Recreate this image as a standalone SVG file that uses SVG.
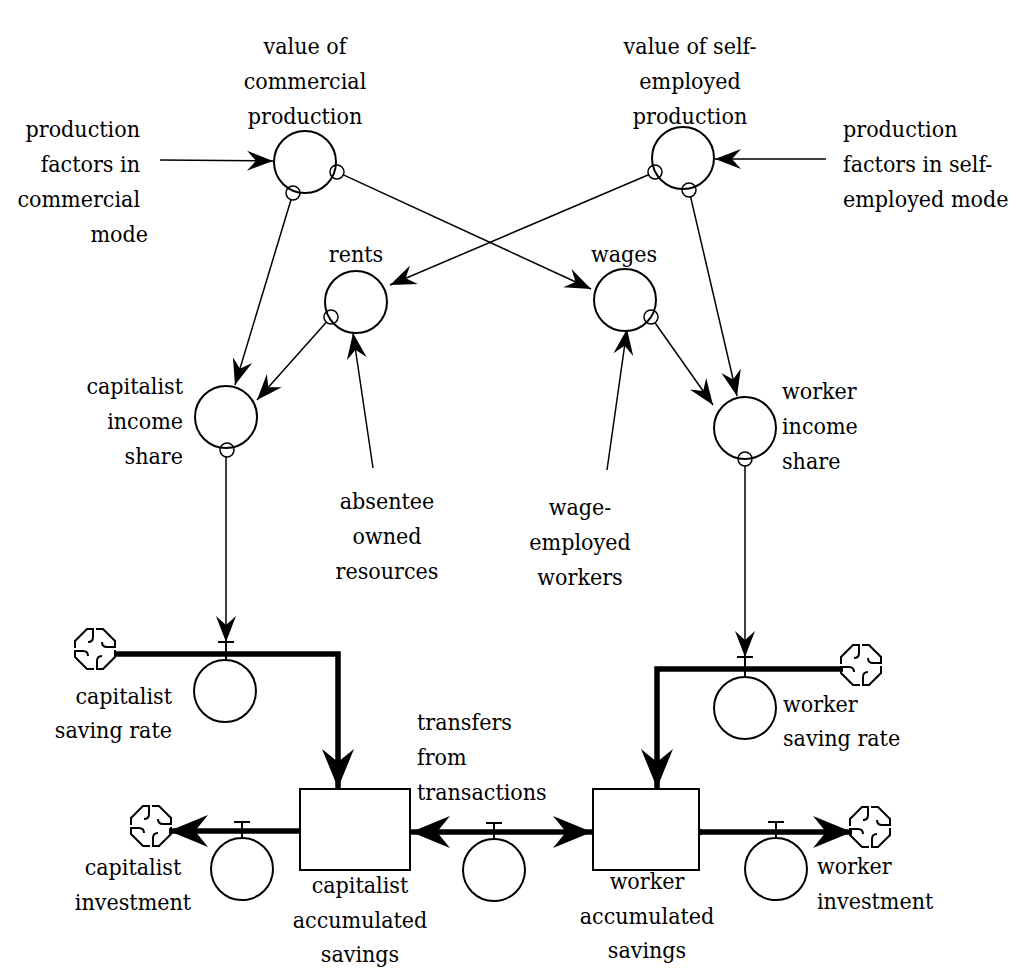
<svg xmlns="http://www.w3.org/2000/svg" xmlns:xlink="http://www.w3.org/1999/xlink" width="1024" height="979" viewBox="0 0 1024 979">
<style>
text{font-family:"DejaVu Serif Condensed","DejaVu Serif",serif;font-stretch:condensed;font-size:23px;fill:#000}
.c{text-anchor:middle}.r{text-anchor:end}
.node{fill:#fff;stroke:#000;stroke-width:2}
.pin{fill:none;stroke:#000;stroke-width:1.5}
.link{fill:none;stroke:#000;stroke-width:1.5;marker-end:url(#ah)}
.pipe{fill:none;stroke:#000;stroke-width:5.5}
.cloud{fill:none;stroke:#000;stroke-width:2}
.valve{fill:none;stroke:#000;stroke-width:2}
</style>
<defs>
<marker id="ah" markerUnits="userSpaceOnUse" viewBox="-28 -13 30 26" markerWidth="30" markerHeight="26" refX="0" refY="0" orient="auto">
<path d="M0,0 L-26,-10 L-17,0 L-26,10 Z" fill="#000"/>
</marker>
<marker id="bh" markerUnits="userSpaceOnUse" viewBox="-42 -18 44 36" markerWidth="44" markerHeight="36" refX="0" refY="0" orient="auto-start-reverse">
<path d="M0,0 L-39,-16 L-26,0 L-39,16 Z" fill="#000"/>
</marker>
<g id="cl">
<path id="cp" class="cloud" d="M1,-20 L8,-20 L20,-8 L20,-2 L12,-2 Q7,-2 7,-7"/>
<use xlink:href="#cp" transform="rotate(90)"/>
<use xlink:href="#cp" transform="rotate(180)"/>
<use xlink:href="#cp" transform="rotate(270)"/>
</g>
</defs>
<rect width="1024" height="979" fill="#fff"/>

<g id="connectors">
<line class="link" x1="160" y1="160" x2="273" y2="161"/>
<line class="link" x1="826" y1="159" x2="715" y2="159"/>
<line class="link" x1="291" y1="199.7" x2="235" y2="385"/>
<line class="link" x1="343.4" y1="174.9" x2="591" y2="289"/>
<line class="link" x1="648.6" y1="174.7" x2="390" y2="285"/>
<line class="link" x1="690.6" y1="196.8" x2="737" y2="396"/>
<line class="link" x1="326.3" y1="322.2" x2="257" y2="400"/>
<line class="link" x1="373" y1="468" x2="353" y2="333"/>
<line class="link" x1="607" y1="470" x2="627" y2="329"/>
<line class="link" x1="655" y1="322.7" x2="713" y2="405"/>
<line class="link" x1="226" y1="457" x2="226" y2="642"/>
<line class="link" x1="745" y1="466" x2="745" y2="657"/>
<polyline class="pipe" points="115,654 338,654 338,788" style="marker-end:url(#bh)"/>
<polyline class="pipe" points="843,669 657,669 657,788" style="marker-end:url(#bh)"/>
<line class="pipe" x1="302" y1="831" x2="169" y2="831" style="marker-end:url(#bh)"/>
<circle cx="302" cy="831" r="3.5" fill="#000"/>
<line class="pipe" x1="411" y1="832" x2="592" y2="832" style="marker-start:url(#bh);marker-end:url(#bh)"/>
<line class="pipe" x1="699" y1="832" x2="852" y2="832" style="marker-end:url(#bh)"/>
<circle cx="699" cy="832" r="3.5" fill="#000"/>
</g>

<g id="value-commercial">
<circle class="node" cx="305" cy="162" r="31"/>
<circle class="pin" cx="293" cy="193" r="7"/>
<circle class="pin" cx="337" cy="172" r="7"/>
<text class="c" x="305" y="54">value of</text>
<text class="c" x="305" y="89">commercial</text>
<text class="c" x="305" y="124">production</text>
</g>
<g id="value-self">
<circle class="node" cx="683" cy="158" r="31"/>
<circle class="pin" cx="655" cy="172" r="7"/>
<circle class="pin" cx="689" cy="190" r="7"/>
<text class="c" x="690" y="54">value of self-</text>
<text class="c" x="690" y="89">employed</text>
<text class="c" x="690" y="124">production</text>
</g>
<g id="pf-commercial">
<text class="r" x="140" y="137">production</text>
<text class="r" x="140" y="172">factors in</text>
<text class="r" x="140" y="207">commercial</text>
<text class="r" x="148" y="242">mode</text>
</g>
<g id="pf-self">
<text x="843" y="137">production</text>
<text x="843" y="172">factors in self-</text>
<text x="843" y="207">employed mode</text>
</g>
<g id="rents">
<circle class="node" cx="356" cy="302" r="31"/>
<circle class="pin" cx="331" cy="317" r="7"/>
<text class="c" x="356" y="262">rents</text>
</g>
<g id="wages">
<circle class="node" cx="625" cy="300" r="31"/>
<circle class="pin" cx="651" cy="317" r="7"/>
<text class="c" x="624" y="262">wages</text>
</g>
<g id="capitalist-income-share">
<circle class="node" cx="226" cy="417" r="31"/>
<circle class="pin" cx="227" cy="450" r="7"/>
<text class="r" x="183" y="394">capitalist</text>
<text class="r" x="183" y="429">income</text>
<text class="r" x="183" y="464">share</text>
</g>
<g id="worker-income-share">
<circle class="node" cx="745" cy="428" r="31"/>
<circle class="pin" cx="745" cy="459" r="7"/>
<text x="782" y="399">worker</text>
<text x="782" y="434">income</text>
<text x="782" y="469">share</text>
</g>
<g id="absentee">
<text class="c" x="387" y="509">absentee</text>
<text class="c" x="387" y="544">owned</text>
<text class="c" x="387" y="579">resources</text>
</g>
<g id="wage-employed">
<text class="c" x="580" y="515">wage-</text>
<text class="c" x="580" y="550">employed</text>
<text class="c" x="580" y="585">workers</text>
</g>
<g id="capitalist-saving-rate">
<use xlink:href="#cl" x="95" y="649"/>
<circle class="node" cx="225" cy="691" r="31"/>
<path class="valve" d="M218,642 H234 M226,642 V660"/>
<text class="r" x="172" y="704">capitalist</text>
<text class="r" x="172" y="738">saving rate</text>
</g>
<g id="worker-saving-rate">
<use xlink:href="#cl" x="861" y="665"/>
<circle class="node" cx="745" cy="708" r="31"/>
<path class="valve" d="M737,657 H753 M745,657 V677"/>
<text x="783" y="712">worker</text>
<text x="783" y="746">saving rate</text>
</g>
<g id="transfers">
<circle class="node" cx="494" cy="870" r="31"/>
<path class="valve" d="M486,823 H502 M494,823 V839"/>
<text x="417" y="730">transfers</text>
<text x="417" y="765">from</text>
<text x="417" y="800">transactions</text>
</g>
<g id="capitalist-investment">
<use xlink:href="#cl" x="151" y="826"/>
<circle class="node" cx="242" cy="869" r="31"/>
<path class="valve" d="M234,822 H250 M242,822 V838"/>
<text class="c" x="133" y="875">capitalist</text>
<text class="c" x="133" y="910">investment</text>
</g>
<g id="worker-investment">
<use xlink:href="#cl" x="870" y="827"/>
<circle class="node" cx="776" cy="869" r="31"/>
<path class="valve" d="M768,822 H784 M776,822 V838"/>
<text x="817" y="874">worker</text>
<text x="817" y="909">investment</text>
</g>
<g id="capitalist-savings">
<rect class="node" x="300" y="789" width="110" height="81"/>
<text class="c" x="360" y="893">capitalist</text>
<text class="c" x="360" y="928">accumulated</text>
<text class="c" x="360" y="962">savings</text>
</g>
<g id="worker-savings">
<rect class="node" x="593" y="789" width="106" height="81"/>
<text class="c" x="647" y="889">worker</text>
<text class="c" x="647" y="924">accumulated</text>
<text class="c" x="647" y="958">savings</text>
</g>
</svg>
